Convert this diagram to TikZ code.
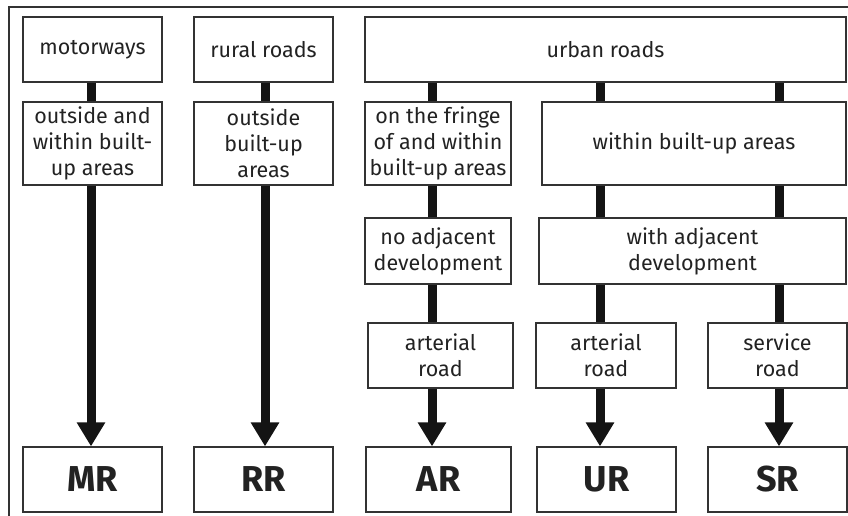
\documentclass[tikz,border=0pt]{standalone}
\usepackage{fontspec}
\setmainfont{Fira Sans}
\usetikzlibrary{arrows.meta}
\definecolor{ink}{HTML}{222222}
\definecolor{bar}{HTML}{141414}
\definecolor{edge}{HTML}{333333}
\begin{document}
\begin{tikzpicture}[x=1pt,y=-1pt,
  box/.style={draw=edge,line width=1.2pt,inner sep=0pt,align=center,text=ink,
    font=\fontsize{21.5}{26}\selectfont},
  codebox/.style={draw=edge,line width=1.2pt,inner sep=0pt,align=center,text=ink,
    font=\fontsize{36}{40}\selectfont\bfseries,minimum width=139pt,minimum height=65pt},
  link/.style={draw=bar,line width=9pt},
  arr/.style={draw=bar,line width=9pt,-{Triangle[width=27pt,length=24pt]}}]
\useasboundingbox (0,0) rectangle (848,516);
\draw[edge,line width=1.2pt] (848,7) -- (9,7) -- (9,516);
% columns
\coordinate (c1) at (91,0);
\coordinate (c2) at (265,0);
\coordinate (c3) at (432,0);
\coordinate (c4) at (600,0);
\coordinate (c5) at (779,0);
% top row
\node[box,minimum width=139pt,minimum height=65pt] (mw) at (92.5,49.5) {motorways};
\node[box,minimum width=139pt,minimum height=65pt] (rr) at (263.5,49.5) {rural roads};
\node[box,minimum width=481pt,minimum height=65pt] (ur) at (605.5,49.5) {urban roads};
% second row
\node[box,minimum width=139pt,minimum height=83pt] (ow) at (92.5,143.5) {outside and\\within built-\\up areas};
\node[box,minimum width=139pt,minimum height=83pt] (ob) at (263.5,143.5) {outside\\built-up\\areas};
\node[box,minimum width=146pt,minimum height=83pt] (fr) at (438,143.5) {on the fringe\\of and within\\built-up areas};
\node[box,minimum width=304pt,minimum height=83pt] (wb) at (694,143.5) {within built-up areas};
% third row
\node[box,minimum width=146pt,minimum height=66pt] (na) at (438,251) {no adjacent\\development};
\node[box,minimum width=307pt,minimum height=66pt] (wa) at (692.5,251) {with adjacent\\development};
% fourth row
\node[box,minimum width=145pt,minimum height=65pt] (a1) at (440.5,355.5) {arterial\\road};
\node[box,minimum width=140pt,minimum height=65pt] (a2) at (606,355.5) {arterial\\road};
\node[box,minimum width=139pt,minimum height=65pt] (sv) at (777.5,355.5) {service\\road};
% bottom codes
\node[codebox] (MR) at (92.5,479.5) {MR};
\node[codebox] (RR) at (263.5,479.5) {RR};
\node[codebox,minimum width=145pt] (AR) at (438.5,479.5) {AR};
\node[codebox] (UR) at (606.5,479.5) {UR};
\node[codebox] (SR) at (777.5,479.5) {SR};
% connectors
\draw[link] (mw.south -| c1) -- (ow.north -| c1);
\draw[arr] (ow.south -| c1) -- (MR.north -| c1);
\draw[link] (rr.south -| c2) -- (ob.north -| c2);
\draw[arr] (ob.south -| c2) -- (RR.north -| c2);
\draw[link] (ur.south -| c3) -- (fr.north -| c3);
\draw[link] (fr.south -| c3) -- (na.north -| c3);
\draw[link] (na.south -| c3) -- (a1.north -| c3);
\draw[arr] (a1.south -| c3) -- (AR.north -| c3);
\draw[link] (ur.south -| c4) -- (wb.north -| c4);
\draw[link] (wb.south -| c4) -- (wa.north -| c4);
\draw[link] (wa.south -| c4) -- (a2.north -| c4);
\draw[arr] (a2.south -| c4) -- (UR.north -| c4);
\draw[link] (ur.south -| c5) -- (wb.north -| c5);
\draw[link] (wb.south -| c5) -- (wa.north -| c5);
\draw[link] (wa.south -| c5) -- (sv.north -| c5);
\draw[arr] (sv.south -| c5) -- (SR.north -| c5);
\end{tikzpicture}
\end{document}
